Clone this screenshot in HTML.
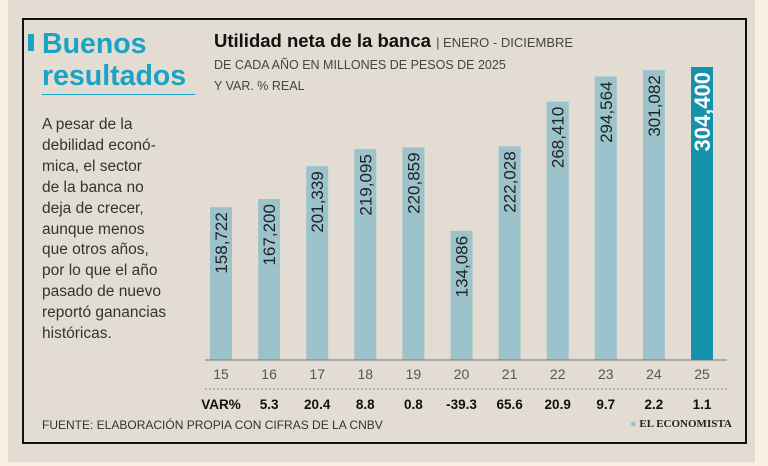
<!DOCTYPE html>
<html><head><meta charset="utf-8"><style>
body{margin:0;width:768px;height:466px;background:#fbeee3;font-family:"Liberation Sans",sans-serif;overflow:hidden;position:relative}
#bg{position:absolute;left:8px;top:0;width:747px;height:462px;background:#e3dcd2}
#frame{position:absolute;left:22px;top:18px;width:721px;height:422px;border:2px solid #111;box-sizing:content-box}
.t{position:absolute;white-space:nowrap}
</style></head><body>
<div id="bg"></div>
<div id="frame"></div>
<div class="t" style="left:28px;top:34px;width:6px;height:17px;background:#1aa3c4"></div>
<div class="t" style="left:42px;top:28px;font-size:28.5px;font-weight:bold;color:#1aa3c4;line-height:32px">Buenos<br>resultados</div>
<div class="t" style="left:42px;top:94px;width:153px;height:1px;background:#1aa3c4"></div>
<div class="t" style="left:42px;top:115px;font-size:15.5px;color:#333;line-height:20.9px">A pesar de la<br>debilidad econó-<br>mica, el sector<br>de la banca no<br>deja de crecer,<br>aunque menos<br>que otros años,<br>por lo que el año<br>pasado de nuevo<br>reportó ganancias<br>históricas.</div>
<div class="t" style="left:214px;top:30px;font-size:18.5px;color:#111"><b>Utilidad neta de la banca</b> <span style="font-size:13px;color:#444">| ENERO - DICIEMBRE</span></div>
<div class="t" style="left:214px;top:55px;font-size:12.5px;color:#444;line-height:21px">DE CADA AÑO EN MILLONES DE PESOS DE 2025<br>Y VAR. % REAL</div>
<div class="t" style="left:42px;top:418px;font-size:12px;color:#333">FUENTE: ELABORACIÓN PROPIA CON CIFRAS DE LA CNBV</div>
<div class="t" style="left:630px;top:418px;font-size:11px;font-family:'Liberation Serif',serif;font-weight:bold;color:#222"><span style="color:#8cc3d6">●</span> EL ECONOMISTA</div>
<svg id="chart" width="768" height="466" style="position:absolute;left:0;top:0"></svg>
<script>
const years=["15","16","17","18","19","20","21","22","23","24","25"];
const values=[158722,167200,201339,219095,220859,134086,222028,268410,294564,301082,304400];
const varPct=["5.3","20.4","8.8","0.8","-39.3","65.6","20.9","9.7","2.2","1.1"];
const svg=document.getElementById('chart');const NS='http://www.w3.org/2000/svg';
const base=360,scaleH=293/304400;
const x=i=>221+i*48.1;const y=v=>base-v*scaleH;
function el(t,a){const e=document.createElementNS(NS,t);for(const k in a)e.setAttribute(k,a[k]);svg.appendChild(e);return e;}
values.forEach((v,i)=>{
 const last=i===values.length-1;
 const r=el('rect',{x:x(i)-11,y:y(v),width:22,height:base-y(v),fill:last?'#1691ab':'#9cc3cc'});
 
 
 const t=el('text',{x:x(i)+(last?8:6),y:y(v)+5,transform:`rotate(-90 ${x(i)+(last?8:6)} ${y(v)+5})`,'text-anchor':'end','font-size':last?22:17,'font-weight':last?'bold':'normal',fill:last?'#fff':'#222','font-family':'Liberation Sans, sans-serif'});
 t.textContent=v.toLocaleString('en-US');
 
 
 const yl=el('text',{x:x(i),y:379,'text-anchor':'middle','font-size':14,fill:'#555','font-family':'Liberation Sans, sans-serif'});
 yl.textContent=years[i];
 
 
});
const ax=el('line',{x1:205,x2:727,y1:base,y2:base,stroke:'#777','stroke-width':1});


const dl=el('line',{x1:205,x2:727,y1:389,y2:389,stroke:'#888','stroke-width':1,'stroke-dasharray':'2,2'});


const vl=el('text',{x:x(0),y:409,'text-anchor':'middle','font-size':13.5,'font-weight':'bold',fill:'#111','font-family':'Liberation Sans, sans-serif'});
vl.textContent='VAR%';


varPct.forEach((p,i)=>{
 const t=el('text',{x:x(i+1),y:409,'text-anchor':'middle','font-size':13.5,'font-weight':'bold',fill:'#111','font-family':'Liberation Sans, sans-serif'});
 t.textContent=p;
 
 
});
</script>
</body></html>
